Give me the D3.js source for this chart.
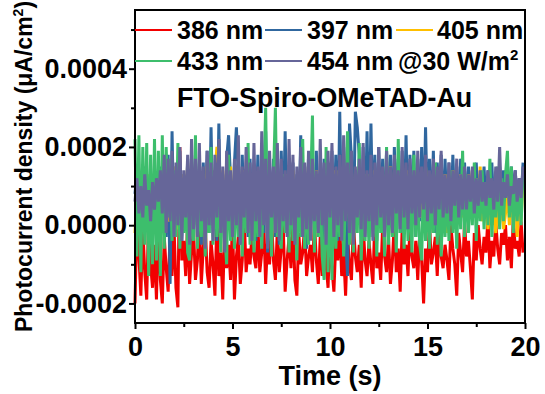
<!DOCTYPE html>
<html>
<head>
<meta charset="utf-8">
<script src="https://cdn.jsdelivr.net/npm/d3@7"></script>
<style>
  body { margin: 0; background: #fff; }
  svg { display: block; font-family: "Liberation Sans", Arial, sans-serif; font-weight: bold; }
</style>
</head>
<body>
<svg id="chart" width="545" height="394"></svg>
<script>
// photocurrent samples in units of 1e-5 uA/cm2, one sample every 0.1 s
const SAMPLE_STEP = 0.1;
const VALUE_UNIT = 1e-5;

const nm386 = [
  -20, 2, -8, -18, 0, -12, -19, 3, -10, -16,
  -5, -19, 1, -14, -20, -3, -11, -17, -2, -13,
  0, -16, -21, 20, -9, -4, -13, 1, -15, -7,
  -1, -14, -9, 3, -15, -6, 0, -12, -16, -4,
  -10, -18, 2, -13, -7, -19, 0, -11, -5, -14,
  1, -19, -8, -3, -15, -9, 2, -12, -6, -10,
  -2, -8, -11, 0, -12, -7, 1, -15, -4, -10,
  2, -9, -14, -1, -12, -6, 0, -17, -9, -3,
  -11, 1, -14, -18, -2, -10, -7, 0, -13, -8,
  -5, -12, 1, -9, -15, -3, -13, 0, -10, -16,
  -2, -11, -17, -4, -9, 0, -13, -7, -18, -3,
  -10, -14, 1, -8, -12, -5, -16, 0, -9, -13,
  -4, -10, -15, 2, -11, -7, -14, 0, -8, -12,
  -3, -15, -9, 1, -12, -6, -17, -1, -10, -5,
  -13, 0, -8, -11, -4, -14, -2, -9, -20, -6,
  -12, 1, -10, -7, -3, -13, 0, -8, -11, -5,
  -9, -14, 0, -6, -10, -18, -2, -7, -12, 1,
  -8, -4, -11, -19, -2, -9, 0, -6, -10, -3,
  -7, 2, -11, -4, -8, 1, -6, -10, -2, -5,
  0, -9, -3, -11, 2, -6, -4, -8, 1, -7
];

const nm397 = [
  8, 14, 5, 12, 3, 15, 7, 10, 2, 13,
  6, 11, 9, 15, 4, 16, -3, 18, -15, 24,
  -2, 15, 1, 19, -4, 13, 0, 17, -6, 14,
  -3, 18, 0, 12, -5, 16, 1, 19, -2, 25,
  0, 14, -4, 26, -1, 13, -6, 17, 23, 12,
  -2, 16, 25, 13, -5, 18, 0, 14, -3, 17,
  -1, 13, -4, 18, 0, 15, -2, 24, -7, 14,
  1, 17, -3, 12, -5, 19, 0, 24, -2, 14,
  -1, 16, -4, 13, 0, 23, -3, 15, -6, 18,
  0, 14, -3, 19, -1, 13, -5, 17, 1, 15,
  -2, 19, 0, 18, -4, 29, -1, 20, -3, -13,
  26, 17, -2, 29, 25, 18, -5, 20, 0, 24,
  -3, 26, 0, 18, -4, 20, 1, 17, -2, 19,
  0, 18, -3, 20, 1, 17, -2, 19, 0, 23,
  -1, 18, 2, 19, -3, 17, 1, 20, 0, 25,
  2, 17, 0, 19, -2, 16, 3, 18, 1, 17,
  2, 16, 0, 18, 4, 15, 1, 17, 3, 16,
  3, 15, 5, 14, 2, 16, 4, 13, 5, 15,
  4, 14, 6, 16, 3, 13, 5, 15, 4, 14,
  6, 13, 4, 15, 7, 14, 5, 12, 6, 16
];

const nm405 = [
  -2, 10, 3, 12, 1, 9, 4, 13, 2, 11,
  5, 12, 3, 14, 1, 10, 6, 1, 8, 12,
  4, 15, -1, 11, 5, 13, 2, 16, 1, 12,
  3, 14, 0, 13, 4, 12, 1, 15, 3, 11,
  2, 13, 20, 10, 4, 14, 1, 12, 3, 15,
  0, 11, 5, 13, 2, 14, 4, 12, 1, 10,
  3, 15, 0, 12, 4, 11, 2, 14, 1, 13,
  4, 12, 0, 15, 3, 11, 5, 13, 1, 12,
  2, 14, 4, 11, 0, 13, 3, 15, 1, 12,
  5, 11, 2, 14, 0, 12, 4, 13, 2, 15,
  1, 12, 3, 14, 0, 11, 5, 13, 2, 12,
  4, 14, 1, 11, 3, 15, 0, 12, 2, 13,
  5, 11, 1, 14, 3, 12, 0, 13, 4, 11,
  2, 15, -3, 12, 1, 13, 4, 11, 2, 14,
  3, 12, 0, 14, 4, 11, 2, 13, 1, 15,
  3, 11, 5, 13, 2, 14, 0, 12, 4, 13,
  -2, 12, 3, 14, 1, 11, 4, 13, 2, 12,
  4, 13, 2, 14, 5, 12, 3, 15, 1, 6,
  5, -1, 6, 0, 4, -2, 5, 1, 6, -1,
  3, 8, 0, 5, 2, 10, -3, 7, 1, 12
];

const nm433 = [
  22, -8, 23, -12, 20, -5, 21, -13, 18, -10,
  22, -9, 19, -13, 23, -6, 20, 2, 17, -4,
  14, -3, 21, -6, 11, -2, 8, -7, -9, 12,
  -4, 23, -6, 9, -3, 13, -8, 7, -2, 20,
  -5, 10, -3, 14, -7, 8, -2, -10, 18, -4,
  9, -6, 12, -3, 7, -8, 13, -2, 21, -5,
  11, -7, 8, -3, 14, -6, 10, 30, -4, 9,
  -8, 12, 30, -3, 8, -6, 13, -2, 9, -7,
  15, -4, 7, -9, 11, -3, 22, -6, 10, -5,
  8, 28, -7, 12, -3, 9, -8, -14, 20, -12,
  9, -14, 13, -6, 8, -3, 11, -8, 7, 24,
  -5, 12, -7, 10, -2, 21, -9, 8, -4, 13,
  -6, 11, -3, 9, -8, 14, -2, 7, -8, 20,
  -5, 12, -3, 10, -7, 22, -2, 9, -6, 13,
  -4, 11, -7, 18, -3, 9, -5, -9, 13, -4,
  10, -6, 8, -2, 16, -5, 12, -8, 9, -3,
  11, -4, 14, -2, 9, -6, 12, -1, 19, -3,
  13, -2, 10, 0, 16, -4, 12, 1, 14, -1,
  11, 0, 17, -3, 9, 2, 15, -1, 12, 1,
  13, 19, 2, 15, -2, 12, 1, 11, 0, 14
];

const nm454 = [
  6, 12, 3, 10, 2, 13, 5, 9, 1, 11,
  4, 12, 6, 14, 3, 18, -2, 17, 1, 19,
  -3, 16, 0, 20, -4, 14, 2, 18, -5, 22,
  -1, 17, -3, 21, 1, 15, -6, 19, 0, 16,
  -4, 18, 2, 22, -2, 15, -7, 19, 1, 14,
  -3, 17, 0, 23, -5, 15, 2, 20, -2, 16,
  -4, 21, 1, 15, -3, 24, 0, 17, -6, 19,
  2, 15, -2, 21, -4, 17, 1, 14, -3, 22,
  0, 18, -5, 15, 2, 20, -3, 16, -1, 19,
  -4, 17, 1, 14, -2, 22, 0, 16, -5, 19,
  2, 21, -3, 15, 0, 18, -4, 23, 1, 16,
  -2, 19, -5, 15, 2, 17, -1, 21, -3, 14,
  1, 18, -4, 16, 0, 20, 2, 15, -3, 19,
  0, 15, -2, 18, 3, 14, -1, 20, 2, 16,
  -1, 17, 3, 14, 0, 19, 2, 15, 4, 18,
  1, 14, 3, 17, 0, 15, 4, 19, 2, 13,
  3, 16, 1, 14, 5, 17, 2, 13, 4, 15,
  4, 13, 6, 15, 3, 12, 5, 14, 6, 11,
  5, 14, 7, 12, 4, 15, 6, 20, 5, 11,
  7, 13, 5, 10, 8, 14, 6, 12, 7, 15
];

// drawn in this order, last one on top
const series = [nm386, nm397, nm405, nm433, nm454];
const seriesNames = ['386 nm', '397 nm', '405 nm', '433 nm', '454 nm'];
const seriesColors = ['#f20000', '#30679f', '#ffbf00', '#3dbe6c', '#666699'];

const xTicks = [0, 5, 10, 15, 20];
const xMinorTicks = [2.5, 7.5, 12.5, 17.5];
const yTicks = [-0.0002, 0, 0.0002, 0.0004];
const yMinorTicks = [-0.0001, 0.0001, 0.0003, 0.0005];

const plot = { left: 135, right: 525, top: 10, bottom: 323 };

const svg = d3.select('#chart');

const x = d3.scaleLinear().domain([0, 20]).range([plot.left, plot.right]);
const y = d3.scaleLinear().domain([-0.00025, 0.00055]).range([plot.bottom, plot.top]);

const line = d3.line()
    .x((d, i) => x(i * SAMPLE_STEP))
    .y((d) => y(d * VALUE_UNIT));

const lines = svg.append('g');
series.forEach((values, idx) => {
    lines.append('path')
        .datum(values)
        .attr('d', line)
        .attr('fill', 'none')
        .attr('stroke', seriesColors[idx])
        .attr('stroke-width', 3)
        .attr('stroke-linejoin', 'bevel');
});

// axes
svg.append('g')
    .attr('transform', `translate(0,${plot.bottom})`)
    .call(d3.axisBottom(x).tickValues(xTicks).tickSize(6).tickPadding(8).tickFormat(d3.format('d')));
svg.append('g')
    .attr('transform', `translate(0,${plot.bottom})`)
    .call(d3.axisBottom(x).tickValues(xMinorTicks).tickSize(4).tickFormat(''));

svg.append('g')
    .attr('transform', `translate(${plot.left},0)`)
    .call(d3.axisLeft(y).tickValues(yTicks).tickSize(6).tickPadding(2).tickFormat((d) => d.toFixed(4)));
svg.append('g')
    .attr('transform', `translate(${plot.left},0)`)
    .call(d3.axisLeft(y).tickValues(yMinorTicks).tickSize(4).tickFormat(''));

svg.selectAll('.domain').remove();
svg.selectAll('.tick line').attr('stroke', '#000').attr('stroke-width', 2);
svg.selectAll('.tick text')
    .attr('fill', '#000')
    .style('font-family', '"Liberation Sans", Arial, sans-serif')
    .style('font-weight', 'bold')
    .style('font-size', '27px');

svg.append('rect')
    .attr('x', plot.left)
    .attr('y', plot.top)
    .attr('width', plot.right - plot.left)
    .attr('height', plot.bottom - plot.top)
    .attr('fill', 'none')
    .attr('stroke', '#000')
    .attr('stroke-width', 2);

// axis titles
svg.append('text')
    .attr('x', (plot.left + plot.right) / 2)
    .attr('y', 385)
    .attr('text-anchor', 'middle')
    .style('font-size', '27px')
    .text('Time (s)');

const yTitle = svg.append('text')
    .attr('transform', `translate(32,${(plot.top + plot.bottom) / 2}) rotate(-90)`)
    .attr('text-anchor', 'middle')
    .style('font-size', '23px');
yTitle.append('tspan').text('Photocurrent density (μA/cm');
yTitle.append('tspan').attr('dy', -9).style('font-size', '14px').text('2');
yTitle.append('tspan').attr('dy', 9).text(')');

// legend
const legendPos = [
    { lx: 135, tx: 177, y: 30 },
    { lx: 265, tx: 307, y: 30 },
    { lx: 396, tx: 437, y: 30 },
    { lx: 135, tx: 177, y: 61 },
    { lx: 265, tx: 307, y: 61 }
];
const legend = svg.append('g');
seriesNames.forEach((name, idx) => {
    const p = legendPos[idx];
    legend.append('line')
        .attr('x1', p.lx).attr('x2', p.lx + 37)
        .attr('y1', p.y).attr('y2', p.y)
        .attr('stroke', seriesColors[idx])
        .attr('stroke-width', 2);
    legend.append('text')
        .attr('x', p.tx)
        .attr('y', p.y + 8.5)
        .style('font-size', '25px')
        .text(name);
});
const power = legend.append('text')
    .attr('x', 398)
    .attr('y', 69.5)
    .style('font-size', '25px');
power.append('tspan').text('@30 W/m');
power.append('tspan').attr('dy', -10).style('font-size', '15px').text('2');

svg.append('text')
    .attr('x', 177)
    .attr('y', 107)
    .style('font-size', '26.8px')
    .text('FTO-Spiro-OMeTAD-Au');
</script>
</body>
</html>
